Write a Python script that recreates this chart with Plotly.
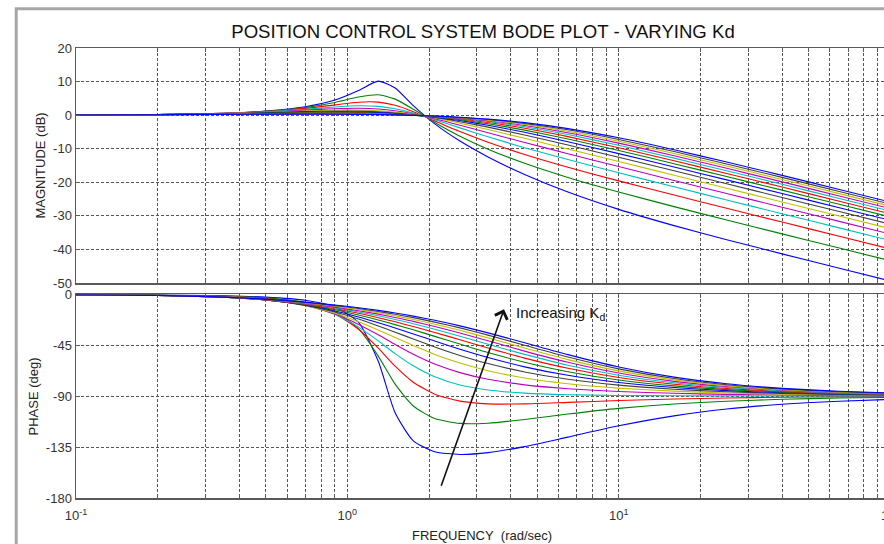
import plotly.graph_objects as go

# ---------------- data ----------------
FREQ = [0.1, 0.2, 0.35, 0.5, 0.7, 0.9, 1.1, 1.3, 1.5, 1.75, 2.1, 2.6, 3.3, 4.5,
        6.5, 10, 16, 25, 40, 65, 100]

KD = [0.34, 0.68, 1.02, 1.36, 1.70, 2.04, 2.38, 2.72, 3.06, 3.40, 3.74, 4.08,
      4.42, 4.76, 5.10]

MAG_1 = [0.05, 0.18, 0.57, 1.20, 2.50, 4.48, 7.35, 10.12, 8.11, 2.81, -2.61, -7.71, -12.44, -17.67, -22.91, -28.07, -32.91, -37.10, -41.32, -45.59, -49.36]
MAG_2 = [0.05, 0.18, 0.55, 1.14, 2.28, 3.79, 5.39, 6.06, 4.77, 1.75, -2.18, -6.27, -10.13, -14.35, -18.57, -22.90, -27.25, -31.24, -35.36, -39.60, -43.35]
MAG_3 = [0.05, 0.17, 0.53, 1.07, 2.02, 3.07, 3.86, 3.88, 2.94, 1.04, -1.71, -4.88, -8.07, -11.70, -15.50, -19.58, -23.81, -27.75, -31.85, -36.08, -39.83]
MAG_4 = [0.05, 0.17, 0.51, 0.98, 1.74, 2.44, 2.79, 2.61, 1.90, 0.62, -1.34, -3.79, -6.46, -9.69, -13.24, -17.18, -21.35, -25.26, -29.36, -33.58, -37.33]
MAG_5 = [0.05, 0.16, 0.48, 0.89, 1.48, 1.92, 2.06, 1.82, 1.29, 0.37, -1.06, -2.99, -5.23, -8.13, -11.48, -15.32, -19.45, -23.34, -27.43, -31.65, -35.39]
MAG_6 = [0.04, 0.16, 0.45, 0.81, 1.25, 1.53, 1.55, 1.32, 0.90, 0.22, -0.86, -2.39, -4.30, -6.91, -10.07, -13.81, -17.89, -21.77, -25.85, -30.07, -33.81]
MAG_7 = [0.04, 0.15, 0.42, 0.72, 1.06, 1.22, 1.19, 0.98, 0.65, 0.12, -0.72, -1.95, -3.57, -5.92, -8.91, -12.55, -16.58, -20.44, -24.51, -28.73, -32.47]
MAG_8 = [0.04, 0.15, 0.39, 0.64, 0.89, 0.99, 0.93, 0.75, 0.48, 0.06, -0.61, -1.62, -3.01, -5.12, -7.94, -11.47, -15.45, -19.29, -23.36, -27.57, -31.31]
MAG_9 = [0.04, 0.14, 0.36, 0.57, 0.75, 0.80, 0.74, 0.58, 0.36, 0.02, -0.52, -1.36, -2.56, -4.47, -7.11, -10.53, -14.47, -18.29, -22.34, -26.55, -30.29]
MAG_10 = [0.04, 0.13, 0.33, 0.50, 0.64, 0.66, 0.59, 0.46, 0.27, 0.00, -0.45, -1.16, -2.20, -3.92, -6.40, -9.71, -13.59, -17.39, -21.43, -25.64, -29.37]
MAG_11 = [0.04, 0.13, 0.30, 0.45, 0.55, 0.55, 0.48, 0.36, 0.21, -0.02, -0.40, -1.01, -1.91, -3.46, -5.79, -8.99, -12.80, -16.58, -20.61, -24.81, -28.55]
MAG_12 = [0.03, 0.12, 0.28, 0.40, 0.47, 0.46, 0.40, 0.29, 0.16, -0.04, -0.36, -0.88, -1.67, -3.08, -5.25, -8.34, -12.09, -15.84, -19.87, -24.06, -27.79]
MAG_13 = [0.03, 0.12, 0.26, 0.35, 0.40, 0.39, 0.33, 0.24, 0.13, -0.05, -0.32, -0.77, -1.48, -2.75, -4.78, -7.76, -11.45, -15.16, -19.18, -23.37, -27.10]
MAG_14 = [0.03, 0.11, 0.24, 0.31, 0.35, 0.33, 0.28, 0.20, 0.10, -0.05, -0.29, -0.69, -1.31, -2.47, -4.37, -7.23, -10.85, -14.54, -18.54, -22.73, -26.46]
MAG_15 = [0.03, 0.10, 0.22, 0.28, 0.30, 0.28, 0.23, 0.16, 0.07, -0.06, -0.27, -0.62, -1.18, -2.23, -4.01, -6.75, -10.31, -13.97, -17.95, -22.13, -25.86]

PHASE_1 = [-0.3, -0.7, -1.4, -2.5, -5.3, -11.2, -24.9, -59.2, -104.7, -129.5, -139.1, -141.5, -139.9, -134.6, -126.2, -116.2, -107.4, -101.4, -97.2, -94.5, -92.9]
PHASE_2 = [-0.3, -0.7, -1.6, -3.2, -7.3, -15.4, -30.6, -54.6, -79.4, -98.7, -109.8, -114.1, -113.9, -110.6, -105.8, -100.8, -96.9, -94.5, -92.8, -91.7, -91.1]
PHASE_3 = [-0.3, -0.8, -1.8, -3.8, -8.7, -17.4, -30.9, -47.6, -63.5, -77.7, -88.3, -94.4, -96.8, -96.8, -95.5, -93.9, -92.5, -91.6, -91.0, -90.6, -90.4]
PHASE_4 = [-0.3, -0.8, -2.0, -4.3, -9.5, -17.9, -29.0, -41.2, -52.4, -63.2, -72.9, -80.1, -84.5, -87.3, -88.7, -89.4, -89.7, -89.8, -89.9, -89.9, -90.0]
PHASE_5 = [-0.3, -0.8, -2.2, -4.6, -9.9, -17.5, -26.6, -35.8, -44.3, -52.9, -61.6, -69.2, -75.1, -80.0, -83.4, -85.9, -87.5, -88.4, -89.0, -89.4, -89.6]
PHASE_6 = [-0.4, -0.9, -2.3, -4.8, -10.0, -16.7, -24.2, -31.5, -38.2, -45.3, -53.1, -60.7, -67.5, -73.9, -79.0, -82.9, -85.6, -87.2, -88.2, -88.9, -89.3]
PHASE_7 = [-0.4, -0.9, -2.4, -5.0, -9.8, -15.7, -21.9, -28.0, -33.5, -39.5, -46.5, -54.0, -61.2, -68.6, -75.1, -80.3, -83.9, -86.1, -87.6, -88.5, -89.0]
PHASE_8 = [-0.4, -0.9, -2.5, -5.0, -9.5, -14.7, -20.0, -25.1, -29.8, -35.0, -41.3, -48.5, -55.8, -64.1, -71.6, -77.9, -82.4, -85.1, -86.9, -88.1, -88.8]
PHASE_9 = [-0.4, -0.9, -2.5, -5.0, -9.2, -13.7, -18.3, -22.7, -26.8, -31.4, -37.2, -44.0, -51.4, -60.0, -68.4, -75.7, -80.9, -84.2, -86.4, -87.8, -88.5]
PHASE_10 = [-0.4, -1.0, -2.6, -4.9, -8.8, -12.8, -16.8, -20.7, -24.3, -28.5, -33.7, -40.2, -47.5, -56.4, -65.4, -73.5, -79.5, -83.3, -85.8, -87.4, -88.3]
PHASE_11 = [-0.4, -1.0, -2.6, -4.8, -8.4, -12.0, -15.6, -19.0, -22.2, -26.0, -30.9, -37.0, -44.1, -53.1, -62.7, -71.5, -78.2, -82.4, -85.2, -87.1, -88.1]
PHASE_12 = [-0.4, -1.0, -2.6, -4.7, -8.0, -11.3, -14.5, -17.5, -20.5, -23.9, -28.5, -34.2, -41.1, -50.2, -60.1, -69.6, -76.9, -81.5, -84.7, -86.7, -87.9]
PHASE_13 = [-0.4, -1.0, -2.6, -4.6, -7.6, -10.6, -13.5, -16.3, -19.0, -22.2, -26.4, -31.8, -38.5, -47.5, -57.7, -67.7, -75.6, -80.7, -84.2, -86.4, -87.7]
PHASE_14 = [-0.4, -1.0, -2.6, -4.5, -7.2, -10.0, -12.6, -15.2, -17.7, -20.6, -24.6, -29.7, -36.1, -45.0, -55.4, -65.9, -74.4, -79.9, -83.6, -86.1, -87.5]
PHASE_15 = [-0.4, -1.0, -2.5, -4.3, -6.9, -9.4, -11.9, -14.2, -16.5, -19.3, -23.0, -27.9, -34.1, -42.8, -53.3, -64.2, -73.2, -79.1, -83.1, -85.7, -87.2]

X_GRID = [0.1, 0.2, 0.3, 0.4, 0.5, 0.6, 0.7, 0.8, 0.9, 1, 2, 3, 4, 5, 6, 7, 8, 9,
          10, 20, 30, 40, 50, 60, 70, 80, 90, 100]
X_LABELS = {0.1: "10<sup>-1</sup>", 1: "10<sup>0</sup>", 10: "10<sup>1</sup>", 100: "10<sup>2</sup>"}
MAG_TICKS = [20, 10, 0, -10, -20, -30, -40, -50]
PHASE_TICKS = [0, -45, -90, -135, -180]

MAGS = [MAG_1, MAG_2, MAG_3, MAG_4, MAG_5, MAG_6, MAG_7, MAG_8, MAG_9, MAG_10,
        MAG_11, MAG_12, MAG_13, MAG_14, MAG_15]
PHASES = [PHASE_1, PHASE_2, PHASE_3, PHASE_4, PHASE_5, PHASE_6, PHASE_7, PHASE_8,
          PHASE_9, PHASE_10, PHASE_11, PHASE_12, PHASE_13, PHASE_14, PHASE_15]

COLORS = ["#0000FF", "#008000", "#FF0000", "#00BFBF", "#BF00BF", "#BFBF00", "#404040"]

# ---------------- layout geometry (pixels) ----------------
W, H = 884, 544
ML, MR, MT, MB = 76, 0, 48, 46
PW, PH = W - ML - MR, H - MT - MB
DECADE = 271.35


def px_x(px):
    return (px - ML) / PW


def px_y(py):
    return (H - MB - py) / PH


FONT = "Liberation Sans, Arial, sans-serif"
AXC = "#5a5a5a"
GRIDC = "#555555"
TICKFONT = dict(family=FONT, size=13, color="#333333")

fig = go.Figure()
for i in range(len(KD)):
    c = COLORS[i % len(COLORS)]
    fig.add_trace(go.Scatter(
        x=FREQ, y=MAGS[i], xaxis="x", yaxis="y", mode="lines",
        line=dict(color=c, width=1.1, shape="spline", smoothing=0.6),
        name=f"Kd = {KD[i]:.2f}", showlegend=False, hoverinfo="skip"))
for i in range(len(KD)):
    c = COLORS[i % len(COLORS)]
    fig.add_trace(go.Scatter(
        x=FREQ, y=PHASES[i], xaxis="x2", yaxis="y2", mode="lines",
        line=dict(color=c, width=1.1, shape="spline", smoothing=0.6),
        name=f"Kd = {KD[i]:.2f}", showlegend=False, hoverinfo="skip"))

xr = [-1, -1 + PW / DECADE]
common_x = dict(type="log", range=xr, tickvals=X_GRID, showgrid=True,
                gridcolor=GRIDC, griddash="3px,2px", gridwidth=1,
                showline=True, linecolor=AXC, linewidth=1.5, mirror="ticks",
                ticks="inside", ticklen=4, tickcolor=AXC, zeroline=False,
                tickfont=TICKFONT)
common_y = dict(showgrid=True, gridcolor=GRIDC, griddash="3px,2px", gridwidth=1,
                showline=True, linecolor=AXC, linewidth=1.5, mirror=False,
                ticks="inside", ticklen=4, tickcolor=AXC, zeroline=False,
                tickfont=TICKFONT)

fig.update_layout(
    width=W, height=H, autosize=False,
    paper_bgcolor="white", plot_bgcolor="white",
    margin=dict(l=ML, r=MR, t=MT, b=MB, pad=0),
    showlegend=False,
    title=dict(text="POSITION CONTROL SYSTEM BODE PLOT - VARYING Kd",
               x=px_x(483), xref="paper", xanchor="center",
               y=1 - 31.5 / H, yref="container", yanchor="middle",
               font=dict(family=FONT, size=18.6, color="#111111")),
    xaxis=dict(common_x, domain=[0, 1], anchor="y", showticklabels=False),
    yaxis=dict(common_y, domain=[px_y(283), 1], anchor="x", range=[-50, 20],
               tickvals=MAG_TICKS, ticktext=[str(v) for v in MAG_TICKS]),
    xaxis2=dict(common_x, domain=[0, 1], anchor="y2", ticklabelstandoff=5,
                ticktext=[X_LABELS.get(v, "") for v in X_GRID]),
    yaxis2=dict(common_y, domain=[0, px_y(294.3)], anchor="x2", range=[-180, 0],
                tickvals=PHASE_TICKS, ticktext=[str(v) for v in PHASE_TICKS]),
)

ann_font = dict(family=FONT, size=13, color="#222222")
fig.add_annotation(text="MAGNITUDE (dB)", xref="paper", yref="paper",
                   x=px_x(40), y=px_y(165.5), textangle=-90, showarrow=False,
                   xanchor="center", yanchor="middle", font=ann_font)
fig.add_annotation(text="PHASE (deg)", xref="paper", yref="paper",
                   x=px_x(33), y=px_y(396.5), textangle=-90, showarrow=False,
                   xanchor="center", yanchor="middle", font=ann_font)
fig.add_annotation(text="FREQUENCY\u00a0 (rad/sec)", xref="paper", yref="paper",
                   x=px_x(482), y=px_y(535.5), showarrow=False,
                   xanchor="center", yanchor="middle", font=ann_font)
# partially visible 10^2 label at the cut right edge
fig.add_annotation(text="10<sup>2</sup>", xref="paper", yref="paper",
                   x=px_x(891), y=px_y(515), showarrow=False,
                   xanchor="center", yanchor="middle", font=TICKFONT)
# "Increasing Kd" label and arrow
fig.add_annotation(text="Increasing K<sub>d</sub>", xref="paper", yref="paper",
                   x=px_x(514), y=px_y(313), showarrow=False,
                   xanchor="left", yanchor="middle",
                   font=dict(family=FONT, size=15, color="#111111"))
fig.add_annotation(text="", xref="x2", yref="y2", axref="x2", ayref="y2",
                   x=-1 + (504 - ML) / DECADE, y=-13.3,
                   ax=-1 + (440.7 - ML) / DECADE, ay=-170.5,
                   showarrow=True, arrowhead=4, arrowsize=1.6, arrowwidth=1.6,
                   arrowcolor="#111111")

# outer grey figure border (cropped window frame)
fig.add_shape(type="rect", xref="paper", yref="paper",
              x0=px_x(16.2), x1=px_x(W + 30), y0=px_y(H + 30), y1=px_y(8.7),
              line=dict(color="#a6a6a6", width=3), fillcolor="rgba(0,0,0,0)",
              layer="above")

fig.write_html(
    "out.html",
    config={"displayModeBar": False, "staticPlot": True},
    post_script="document.body.style.margin='0px';"
                "document.body.style.overflow='hidden';",
)
